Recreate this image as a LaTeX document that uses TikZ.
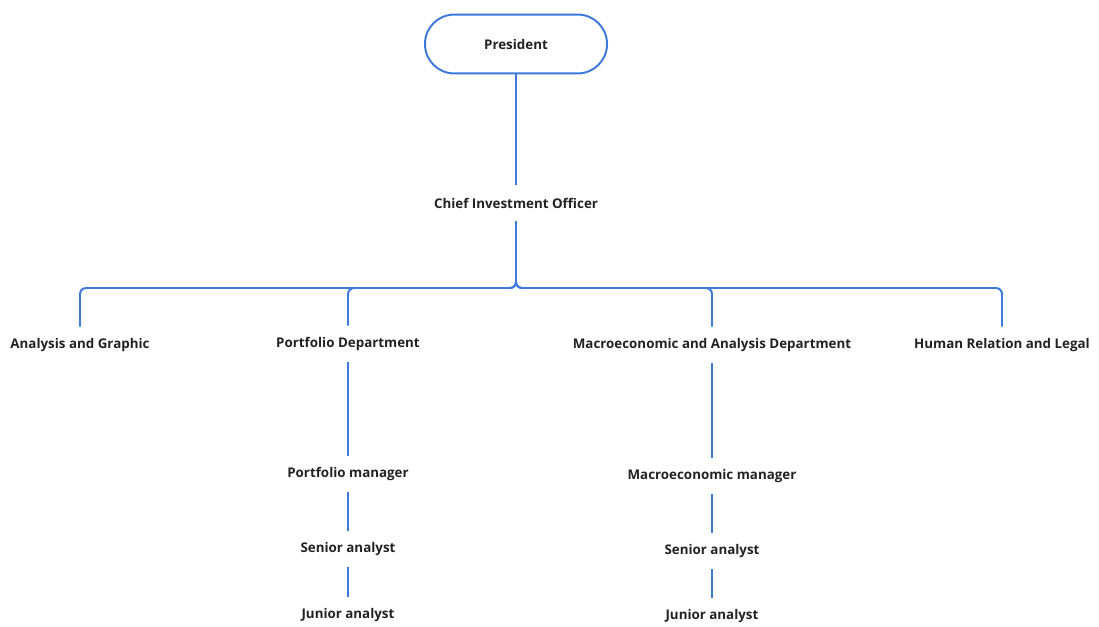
\documentclass[tikz,border=0pt]{standalone}
\usepackage{fontspec}
\setmainfont{Open Sans}
\definecolor{linkblue}{RGB}{62,122,220}
\definecolor{ink}{RGB}{34,34,34}
\tikzset{
    role/.style={font=\bfseries\fontsize{9.5}{11}\selectfont, text=ink, minimum height=0.9cm, inner ysep=0pt},
    head/.style={role, draw=linkblue, line width=1.4pt, rounded corners=0.73cm, minimum width=4.55cm, minimum height=1.47cm},
    link/.style={draw=linkblue, line width=1.4pt, rounded corners=0.15cm}
}
\begin{document}
\begin{tikzpicture}[x=0.025cm, y=-0.025cm]
    \useasboundingbox (0,0) rectangle (1099,626);
    \node[head] (pres) at (516,44) {President};
    \node[role] (cio) at (516,203) {Chief Investment Officer};
    \coordinate (bus) at (516,288);

    \node[role] (ana) at (80,345) {Analysis and Graphic};
    \node[role] (port) at (348,344) {Portfolio Department};
    \node[role] (macro) at (712,345) {Macroeconomic and Analysis Department};
    \node[role] (hr) at (1002,345) {Human Relation and Legal};

    \node[role] (pm) at (348,474) {Portfolio manager};
    \node[role] (psa) at (348,549) {Senior analyst};
    \node[role] (pja) at (348,615) {Junior analyst};

    \node[role] (mm) at (712,476) {Macroeconomic manager};
    \node[role] (msa) at (712,551) {Senior analyst};
    \node[role] (mja) at (712,616) {Junior analyst};

    \draw[link] (pres) -- (cio);
    \draw[link] (cio.south) -- (cio.south |- bus) -| (ana.north);
    \draw[link] (cio.south) -- (cio.south |- bus) -| (port.north);
    \draw[link] (cio.south) -- (cio.south |- bus) -| (macro.north);
    \draw[link] (cio.south) -- (cio.south |- bus) -| (hr.north);

    \draw[link] (port) -- (pm);
    \draw[link] (pm) -- (psa);
    \draw[link] (psa) -- (pja);
    \draw[link] (macro) -- (mm);
    \draw[link] (mm) -- (msa);
    \draw[link] (msa) -- (mja);
\end{tikzpicture}
\end{document}
